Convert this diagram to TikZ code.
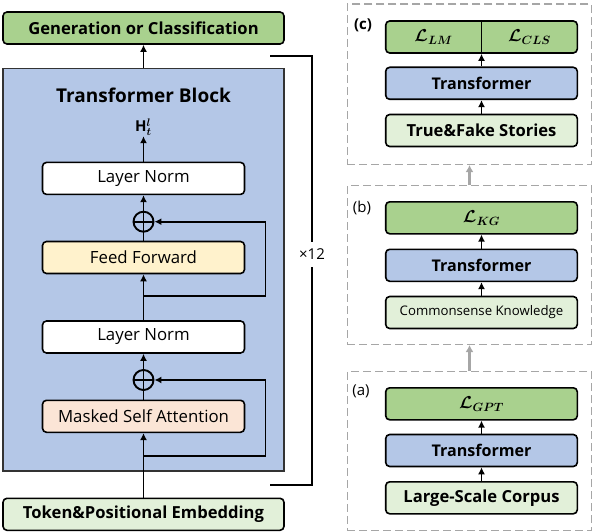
\documentclass[tikz,border=0pt]{standalone}
\usepackage{amssymb}
\usepackage{amsmath}
\usepackage{bm}
\usepackage{fontspec}
\setmainfont{Open Sans}
\usetikzlibrary{arrows.meta}

\definecolor{genGreen}{HTML}{A9D18E}
\definecolor{blockBlue}{HTML}{B4C7E7}
\definecolor{ffYellow}{HTML}{FFF2CC}
\definecolor{attOrange}{HTML}{FBE5D6}
\definecolor{inGreen}{HTML}{E2F0D9}
\definecolor{panelGray}{HTML}{A6A6A6}

\begin{document}
\begin{tikzpicture}[x=1pt,y=-1pt,
	box/.style={draw, line width=1.6pt, rounded corners=4pt, minimum height=32pt, inner sep=0pt},
	bigtxt/.style={font=\fontsize{16.6}{19}\selectfont\bfseries},
	trtxt/.style={font=\fontsize{16.1}{19}\selectfont\bfseries},
	thintxt/.style={font=\fontsize{16.8}{19}\selectfont},
	losstxt/.style={font=\fontsize{18}{20}\selectfont},
	arr/.style={line width=1.9pt, -{Latex[length=7pt,width=7pt]}},
	line/.style={line width=1.9pt},
	grayarr/.style={line width=2.2pt, draw=panelGray, -{Latex[length=7pt,width=8pt]}},
	panel/.style={draw=panelGray, line width=1.4pt, dash pattern=on 8pt off 4pt, minimum width=244.4pt},
	addop/.style={draw, circle, line width=1.9pt, minimum size=20pt, inner sep=0pt}]
	\useasboundingbox (0,0) rectangle (594,532);

	% left: transformer block
	\node[box, fill=genGreen, minimum width=281pt, bigtxt] (gen) at (143.5,28) {Generation or Classification};
	\node[draw, line width=1.3pt, draw=black!80, fill=blockBlue, minimum width=281pt, minimum height=402.3pt] (block) at (143.5,269.85) {};
	\node[font=\fontsize{19}{22}\selectfont\bfseries] (title) at (143.5,95) {Transformer Block};
	\node[font=\fontsize{15}{18}\selectfont, inner sep=0.5pt] (h) at (143.5,127) {$\mathbf{H}^{\bm l}_{\bm t}$};
	\node[box, fill=white, minimum width=202pt, thintxt] (ln1) at (143.5,178.4) {Layer Norm};
	\node[addop] (add1) at (143.5,221.7) {};
	\node[box, fill=ffYellow, minimum width=202pt, thintxt] (ff) at (143.5,257.5) {Feed Forward};
	\node[box, fill=white, minimum width=202pt, thintxt] (ln2) at (143.5,337) {Layer Norm};
	\node[addop] (add2) at (143.5,380) {};
	\node[box, fill=attOrange, minimum width=202pt, thintxt] (msa) at (143.5,416.3) {Masked Self Attention};
	\node[box, fill=inGreen, minimum width=281pt, bigtxt] (tok) at (143.5,514.3) {Token\&Positional Embedding};
	\draw[line] (add1.north) -- (add1.south) (add1.west) -- (add1.east);
	\draw[line] (add2.north) -- (add2.south) (add2.west) -- (add2.east);

	\coordinate (skip1a) at (143.5,295.7);
	\coordinate (skip1b) at (265.5,295.7);
	\coordinate (skip2a) at (143.5,455.7);
	\coordinate (skip2b) at (265.5,455.7);

	\draw[arr] (tok) -- (msa);
	\draw[line] (msa) -- (add2);
	\draw[arr] (add2) -- (ln2);
	\draw[arr] (skip2a) -- (skip2b) |- (add2.east);
	\draw[arr] (ln2) -- (ff);
	\draw[line] (ff) -- (add1);
	\draw[arr] (add1) -- (ln1);
	\draw[arr] (skip1a) -- (skip1b) |- (add1.east);
	\draw[arr] (ln1) -- (h);
	\draw[arr] (block) -- (gen);

	% repeat bracket
	\node[minimum height=25pt, inner sep=0pt, font=\fontsize{15}{18}\selectfont] (rep) at (312,254.2) {×12};
	\coordinate (brTop) at (270,55.7);
	\coordinate (brBot) at (270,485);
	\draw[line] (brTop) -| (rep.north);
	\draw[line] (brBot) -| (rep.south);

	% right: three training stages
	\node[panel, minimum height=160.3pt] (panelC) at (469.5,84.2) {};
	\node[panel, minimum height=158.6pt] (panelB) at (469.5,265) {};
	\node[panel, minimum height=159pt] (panelA) at (469.5,451.2) {};
	\draw[grayarr] (panelA) -- (panelB);
	\draw[grayarr] (panelB) -- (panelC);

	% (c)
	\node[font=\fontsize{15}{18}\selectfont\bfseries] (labC) at (363,25) {(c)};
	\node[box, fill=genGreen, minimum width=191.6pt] (lossC) at (481.5,37) {};
	\draw[line width=1.2pt] (lossC.north) -- (lossC.south);
	\node[losstxt] (lm) at (433.6,37) {$\bm{\mathcal{L}}_{\bm{LM}}$};
	\node[losstxt] (cls) at (529.4,37) {$\bm{\mathcal{L}}_{\bm{CLS}}$};
	\node[box, fill=blockBlue, minimum width=191.6pt, trtxt] (trC) at (481.5,83.3) {Transformer};
	\node[box, fill=inGreen, minimum width=191.6pt, bigtxt] (storyC) at (481.5,130.5) {True\&Fake Stories};
	\draw[arr] (storyC) -- (trC);
	\draw[arr] (trC) -- (lossC);

	% (b)
	\node[font=\fontsize{15}{18}\selectfont] (labB) at (362,208) {(b)};
	\node[box, fill=genGreen, minimum width=191.6pt, losstxt] (lossB) at (481.5,217.8) {$\bm{\mathcal{L}}_{\bm{KG}}$};
	\node[box, fill=blockBlue, minimum width=191.6pt, trtxt] (trB) at (481.5,265.3) {Transformer};
	\node[box, fill=inGreen, minimum width=191.6pt, font=\fontsize{13.2}{16}\selectfont] (kgB) at (481.5,312.5) {Commonsense Knowledge};
	\draw[arr] (kgB) -- (trB);
	\draw[arr] (trB) -- (lossB);

	% (a)
	\node[font=\fontsize{15}{18}\selectfont] (labA) at (361,391.7) {(a)};
	\node[box, fill=genGreen, minimum width=191.6pt, losstxt] (lossA) at (481.5,403.8) {$\bm{\mathcal{L}}_{\bm{GPT}}$};
	\node[box, fill=blockBlue, minimum width=191.6pt, trtxt] (trA) at (481.5,450.5) {Transformer};
	\node[box, fill=inGreen, minimum width=191.6pt, bigtxt] (corpusA) at (481.5,497.8) {Large-Scale Corpus};
	\draw[arr] (corpusA) -- (trA);
	\draw[arr] (trA) -- (lossA);
\end{tikzpicture}
\end{document}
